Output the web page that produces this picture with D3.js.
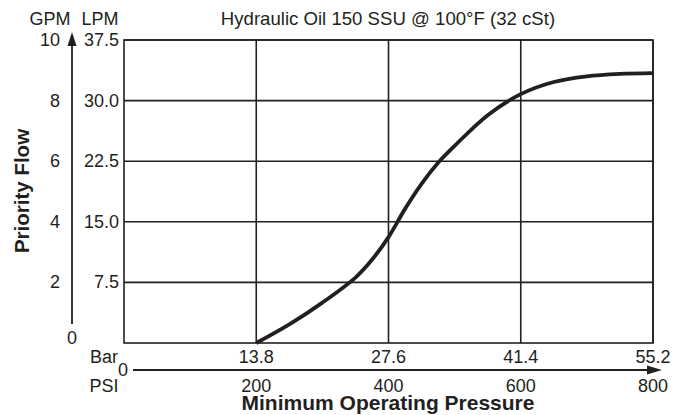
<!DOCTYPE html>
<html>
<head>
<meta charset="utf-8">
<script src="https://cdn.jsdelivr.net/npm/d3@7"></script>
<style>
  html, body { margin: 0; padding: 0; background: #fff; }
  svg { display: block; font-family: "Liberation Sans", Arial, Helvetica, sans-serif; }
</style>
</head>
<body>
<svg id="chart" width="686" height="415"></svg>
<script>
// ---- Data ----
const psiTicks = [200, 400, 600, 800];
const barTicks = ["13.8", "27.6", "41.4", "55.2"];
const lpmTicks = [7.5, 15.0, 22.5, 30.0, 37.5];
const gpmTicks = [2, 4, 6, 8, 10];
const curvePsi = [200, 250, 300, 350, 375, 400, 425, 450, 475, 500, 550, 600, 650, 700, 750, 800];
const curveLpm = [0, 2.3, 5.0, 8.1, 10.3, 13.1, 16.6, 19.7, 22.3, 24.4, 28.2, 30.8, 32.3, 33.0, 33.3, 33.4];
const titleText = "Hydraulic Oil 150 SSU @ 100°F (32 cSt)";
const xTitle = "Minimum Operating Pressure";
const yTitle = "Priority Flow";

// ---- Layout ----
const svg = d3.select("#chart");
const ink = "#231f20";
const FS = 18;
const plot = { left: 124, right: 653, top: 40, bottom: 343 };

const x = d3.scaleLinear().domain([0, 800]).range([plot.left, plot.right]);
const y = d3.scaleLinear().domain([0, 37.5]).range([plot.bottom, plot.top]);
const yG = d3.scaleLinear().domain([0, 10]).range([plot.bottom, plot.top]);

// grid (vertical)
svg.append("g").selectAll("line").data(psiTicks).join("line")
  .attr("x1", d => x(d)).attr("x2", d => x(d))
  .attr("y1", plot.top).attr("y2", plot.bottom)
  .attr("stroke", ink).attr("stroke-width", 1.6);
// grid (horizontal)
svg.append("g").selectAll("line").data(lpmTicks).join("line")
  .attr("x1", plot.left).attr("x2", plot.right)
  .attr("y1", d => y(d)).attr("y2", d => y(d))
  .attr("stroke", ink).attr("stroke-width", 1.6);
// border
svg.append("rect")
  .attr("x", plot.left).attr("y", plot.top)
  .attr("width", plot.right - plot.left).attr("height", plot.bottom - plot.top)
  .attr("fill", "none").attr("stroke", ink).attr("stroke-width", 1.6);

// curve
const pts = curvePsi.map((p, i) => [p, curveLpm[i]]);
svg.append("path")
  .datum(pts)
  .attr("d", d3.line().x(d => x(d[0])).y(d => y(d[1])).curve(d3.curveCatmullRom.alpha(0.5)))
  .attr("fill", "none").attr("stroke", ink).attr("stroke-width", 3.8)
  .attr("stroke-linecap", "butt");

// text helper
function txt(xp, yp, s, opts = {}) {
  return svg.append("text")
    .attr("x", xp).attr("y", yp)
    .attr("fill", ink)
    .attr("font-size", opts.size || FS)
    .attr("font-weight", opts.bold ? "bold" : "normal")
    .attr("text-anchor", opts.anchor || "middle")
    .attr("dominant-baseline", opts.baseline || "central")
    .text(s);
}

// LPM labels
svg.append("g").selectAll("text").data(lpmTicks).join("text")
  .attr("x", 119).attr("y", d => y(d))
  .attr("text-anchor", "end").attr("dominant-baseline", "central")
  .attr("font-size", FS).attr("fill", ink)
  .text(d => d.toFixed(1));

// GPM labels
svg.append("g").selectAll("text").data(gpmTicks).join("text")
  .attr("x", 60).attr("y", d => yG(d))
  .attr("text-anchor", "end").attr("dominant-baseline", "central")
  .attr("font-size", FS).attr("fill", ink)
  .text(d => d);
txt(72, 338, "0");

// GPM arrow
svg.append("line").attr("x1", 72).attr("x2", 72).attr("y1", 324).attr("y2", 44)
  .attr("stroke", ink).attr("stroke-width", 1.8);
svg.append("path").attr("d", "M72,32 L67.5,46 L76.5,46 Z").attr("fill", ink);

// headers
txt(50, 25, "GPM", { baseline: "alphabetic" });
txt(100, 25, "LPM", { baseline: "alphabetic" });
txt(388, 25, titleText, { size: 18.6, baseline: "alphabetic" });

// Bar / PSI row
txt(104, 357, "Bar");
txt(104, 386, "PSI");
svg.append("g").selectAll("text").data(psiTicks).join("text")
  .attr("x", d => x(d)).attr("y", 357)
  .attr("text-anchor", "middle").attr("dominant-baseline", "central")
  .attr("font-size", FS).attr("fill", ink)
  .text((d, i) => barTicks[i]);
svg.append("g").selectAll("text").data(psiTicks).join("text")
  .attr("x", d => x(d)).attr("y", 386)
  .attr("text-anchor", "middle").attr("dominant-baseline", "central")
  .attr("font-size", FS).attr("fill", ink)
  .text(d => d);
txt(123, 370, "0");

// PSI arrow
svg.append("line").attr("x1", 133).attr("x2", 650).attr("y1", 370).attr("y2", 370)
  .attr("stroke", ink).attr("stroke-width", 1.8);
svg.append("path").attr("d", "M662,370 L647,365.5 L647,374.5 Z").attr("fill", ink);

// axis titles
txt(388, 410, xTitle, { size: 21, bold: true, baseline: "alphabetic" });
svg.append("text")
  .attr("transform", "translate(21,191) rotate(-90)")
  .attr("text-anchor", "middle").attr("dominant-baseline", "central")
  .attr("font-size", 20.5).attr("font-weight", "bold").attr("fill", ink)
  .text(yTitle);
</script>
</body>
</html>
